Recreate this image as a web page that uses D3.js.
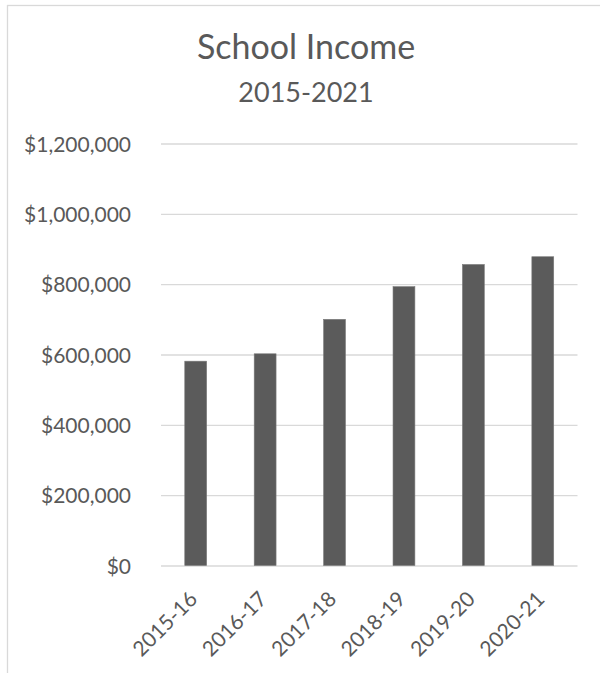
<!DOCTYPE html>
<html>
<head>
<meta charset="utf-8">
<script src="https://cdn.jsdelivr.net/npm/d3@7"></script>
<style>
  body { margin: 0; background: #fff; }
  svg text { font-family: Lato, "Open Sans", sans-serif; fill: #595959; }
</style>
</head>
<body>
<svg id="chart" width="600" height="673"></svg>
<script>
// data
var years = ["2015-16", "2016-17", "2017-18", "2018-19", "2019-20", "2020-21"];
var income = [581000, 602000, 700000, 793000, 856000, 878000];
var yTicks = [0, 200000, 400000, 600000, 800000, 1000000, 1200000];

var svg = d3.select("#chart");

// plot box
var plotLeft = 161, plotRight = 577.5, plotTop = 143.5, plotBottom = 565.5;

// outer frame of the chart area
svg.append("rect")
  .attr("x", 7.5).attr("y", 5.5)
  .attr("width", 620).attr("height", 700)
  .attr("fill", "none")
  .attr("stroke", "#d9d9d9")
  .attr("stroke-width", 1.3);

var x = d3.scaleBand()
  .domain(years)
  .range([plotLeft, plotRight])
  .paddingInner(0.685)
  .paddingOuter(0.3425);

var y = d3.scaleLinear()
  .domain([0, 1200000])
  .range([plotBottom, plotTop]);

var fmt = d3.format("$,");

// gridlines + y labels
var yAxis = d3.axisLeft(y)
  .tickValues(yTicks)
  .tickSize(-(plotRight - plotLeft))
  .tickPadding(30)
  .tickFormat(function(d) { return fmt(d); });

var gy = svg.append("g")
  .attr("transform", "translate(" + plotLeft + ",0)")
  .call(yAxis);
gy.select(".domain").remove();
gy.selectAll(".tick line").attr("stroke", "#d9d9d9").attr("stroke-width", 1.3);
gy.selectAll(".tick text")
  .style("font-size", "21px")
  .attr("fill", "#595959")
  .attr("dy", "0.36em");

// bars
svg.append("g")
  .selectAll("rect")
  .data(income)
  .enter()
  .append("rect")
  .attr("x", function(d, i) { return x(years[i]); })
  .attr("y", function(d) { return y(d); })
  .attr("width", x.bandwidth())
  .attr("height", function(d) { return plotBottom - y(d); })
  .attr("fill", "#5b5b5b")
  .attr("stroke", "#7a7a7a")
  .attr("stroke-width", 0.6);

// x labels, rotated
var xAxis = d3.axisBottom(x).tickSize(0).tickPadding(0);
var gx = svg.append("g")
  .attr("transform", "translate(0," + plotBottom + ")")
  .call(xAxis);
gx.select(".domain").remove();
gx.selectAll(".tick text")
  .style("font-size", "21px")
  .attr("fill", "#595959")
  .attr("text-anchor", "end")
  .attr("dy", null)
  .attr("y", 0)
  .attr("transform", "translate(3,35) rotate(-45)");

// titles
svg.append("text")
  .attr("x", 306).attr("y", 59)
  .attr("text-anchor", "middle")
  .style("font-size", "34px")
  .text("School Income");

svg.append("text")
  .attr("x", 306).attr("y", 102)
  .attr("text-anchor", "middle")
  .style("font-size", "27px")
  .text("2015-2021");
</script>
</body>
</html>
